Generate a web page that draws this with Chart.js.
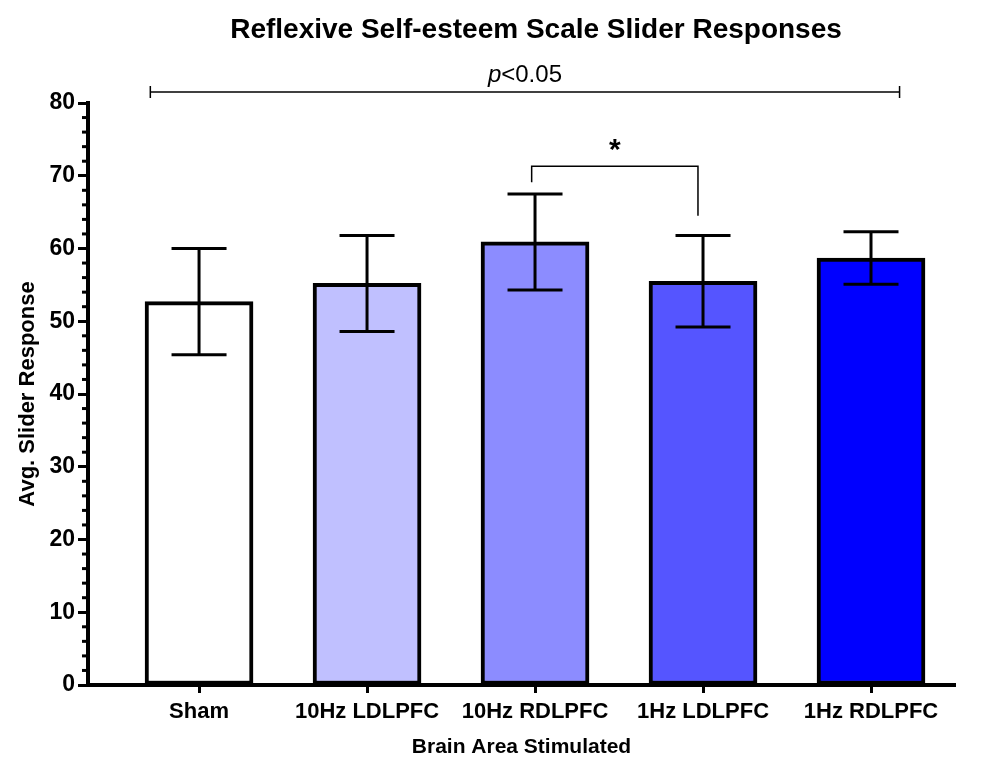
<!DOCTYPE html>
<html>
<head>
<meta charset="utf-8">
<script src="https://cdn.jsdelivr.net/npm/chart.js@4/dist/chart.umd.min.js"></script>
<style>
  html,body{margin:0;padding:0;background:#fff;}
  #wrap{width:981px;height:762px;position:relative;}
</style>
</head>
<body>
<div id="wrap"><canvas id="chart" width="981" height="762"></canvas></div>
<script>
/* data */
const categories = ['Sham', '10Hz LDLPFC', '10Hz RDLPFC', '1Hz LDLPFC', '1Hz RDLPFC'];
const means = [52.7, 55.2, 60.9, 55.5, 58.7];
const errors = [7.3, 6.6, 6.6, 6.3, 3.6];
const barColors = ['#ffffff', '#c0c0ff', '#8c8cff', '#5555ff', '#0000ff'];
const yTicks = [0, 10, 20, 30, 40, 50, 60, 70, 80];

// significance annotations (data units)
const sigTexts = ['p<0.05', '*'];
const sigFrom = [-0.29, 1.98];
const sigTo = [4.17, 2.97];
const sigTop = [81.5, 71.3];
const sigLegs = [[null, null], [69.1, 64.5]];

const FONT = '"Liberation Sans", Arial, sans-serif';

(function(){
  const ctx = document.getElementById('chart').getContext('2d');

  const extras = {
    id:'extras',
    afterDatasetsDraw(chart){
      const c = chart.ctx, xs = chart.scales.x, ys = chart.scales.y;
      c.save();
      // error bars
      c.strokeStyle = '#000'; c.lineWidth = 3; c.lineCap = 'butt';
      means.forEach((m,i)=>{
        const px = xs.getPixelForValue(i);
        const hi = ys.getPixelForValue(m + errors[i]), lo = ys.getPixelForValue(m - errors[i]);
        c.beginPath(); c.moveTo(px, hi); c.lineTo(px, lo); c.stroke();
        c.beginPath(); c.moveTo(px-27.5, hi); c.lineTo(px+27.5, hi); c.stroke();
        c.beginPath(); c.moveTo(px-27.5, lo); c.lineTo(px+27.5, lo); c.stroke();
      });
      // minor y ticks
      c.lineWidth = 3;
      for(let v=0; v<=80; v+=2){
        if(v%10===0) continue;
        const py = ys.getPixelForValue(v);
        c.beginPath(); c.moveTo(chart.chartArea.left-6, py); c.lineTo(chart.chartArea.left, py); c.stroke();
      }
      // brackets
      c.lineWidth = 1.5; c.strokeStyle = '#000'; c.fillStyle = '#000';
      // wide p<0.05 bar
      {
        const x1 = xs.getPixelForValue(sigFrom[0]), x2 = xs.getPixelForValue(sigTo[0]);
        const y = ys.getPixelForValue(sigTop[0]);
        c.beginPath(); c.moveTo(x1, y); c.lineTo(x2, y); c.stroke();
        c.beginPath(); c.moveTo(x1, y-6); c.lineTo(x1, y+6); c.moveTo(x2, y-6); c.lineTo(x2, y+6); c.stroke();
        const cx = (x1+x2)/2;
        c.textBaseline = 'alphabetic';
        c.font = 'italic 24px ' + FONT;
        const pW = c.measureText('p').width;
        c.font = '24px ' + FONT;
        const rest = sigTexts[0].slice(1);
        const rW = c.measureText(rest).width;
        const sx = cx - (pW + rW)/2;
        c.textAlign = 'left';
        c.font = 'italic 24px ' + FONT; c.fillText('p', sx, y-10);
        c.font = '24px ' + FONT; c.fillText(rest, sx + pW, y-10);
      }
      // star bracket
      {
        const x1 = xs.getPixelForValue(sigFrom[1]), x2 = xs.getPixelForValue(sigTo[1]);
        const y = ys.getPixelForValue(sigTop[1]);
        c.beginPath();
        c.moveTo(x1, ys.getPixelForValue(sigLegs[1][0]));
        c.lineTo(x1, y); c.lineTo(x2, y);
        c.lineTo(x2, ys.getPixelForValue(sigLegs[1][1]));
        c.stroke();
        c.font = 'bold 30px ' + FONT; c.textAlign = 'center'; c.textBaseline = 'alphabetic';
        c.fillText(sigTexts[1], (x1+x2)/2, y-7);
      }
      // titles
      c.fillStyle = '#000';
      c.font = 'bold 28px ' + FONT; c.textAlign = 'center'; c.textBaseline = 'middle';
      c.fillText('Reflexive Self-esteem Scale Slider Responses', 536, 30);
      c.font = 'bold 21px ' + FONT;
      c.fillText('Brain Area Stimulated', (chart.chartArea.left+chart.chartArea.right)/2, 747);
      c.font = 'bold 22px ' + FONT;
      c.translate(28, (chart.chartArea.top+chart.chartArea.bottom)/2);
      c.rotate(-Math.PI/2);
      c.fillText('Avg. Slider Response', 0, 0);
      c.restore();
    }
  };

  new Chart(ctx, {
    type:'bar',
    data:{ datasets:[{
      data: means.map((m,i)=>({x:i, y:m})),
      backgroundColor: barColors, borderColor:'#000', borderWidth:4, borderSkipped:false,
      barThickness:108
    }]},
    options:{
      responsive:false, animation:false,
      layout:{ padding:{ left:0, right:26, top:103, bottom:0 } },
      plugins:{ legend:{display:false}, tooltip:{enabled:false}, title:{display:false} },
      scales:{
        x:{ type:'linear', min:-0.661, max:4.5, offset:false,
          afterBuildTicks(s){ s.ticks = categories.map((_,i)=>({value:i})); },
          afterFit(s){ s.height = 77; },
          border:{ display:true, color:'#000', width:4 },
          grid:{ offset:false, drawOnChartArea:false, drawTicks:true, tickLength:8, tickWidth:3, tickColor:'#000' },
          ticks:{ autoSkip:false, maxRotation:0, padding:6, color:'#000', font:{ family:FONT, size:22, weight:'bold' },
            callback:(v)=> categories[v] }
        },
        y:{ min:0, max:80,
          afterBuildTicks(s){ s.ticks = yTicks.map(v=>({value:v})); },
          afterFit(s){ s.width = 88; },
          border:{ display:true, color:'#000', width:4 },
          grid:{ drawOnChartArea:false, drawTicks:true, tickLength:10, tickWidth:3, tickColor:'#000' },
          ticks:{ padding:3, color:'#000', font:{ family:FONT, size:23, weight:'bold' } }
        }
      }
    },
    plugins:[extras]
  });
})();
</script>
</body>
</html>
